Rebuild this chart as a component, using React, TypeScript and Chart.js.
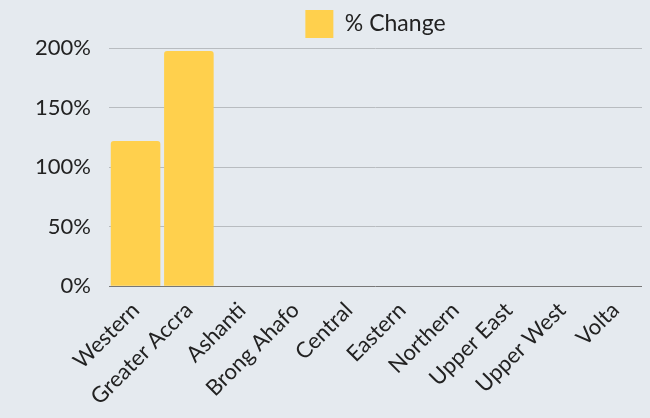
import React, { useEffect, useRef } from "react";
import { Chart, registerables } from "chart.js";

Chart.register(...registerables);

const categories = ["Western", "Greater Accra", "Ashanti", "Brong Ahafo", "Central", "Eastern", "Northern", "Upper East", "Upper West", "Volta"];
const pctChange = [122, 197.5, 0, 0, 0, 0, 0, 0, 0, 0];
const seriesLabel = "% Change";

export default function App() {
  const ref = useRef<HTMLCanvasElement | null>(null);
  useEffect(() => {
    document.body.style.margin = "0";
    const font = { family: "Lato", size: 22 };
    const chart = new Chart(ref.current!, {
      type: "bar",
      data: {
        labels: categories,
        datasets: [
          {
            label: seriesLabel,
            data: pctChange,
            backgroundColor: "#FFD04D",
            borderRadius: 3,
            borderSkipped: "bottom",
            barPercentage: 0.93,
            categoryPercentage: 1,
          },
        ],
      },
      options: {
        animation: false,
        responsive: false,
        layout: { padding: { left: 17, right: 8, top: 4, bottom: 5 } },
        plugins: {
          tooltip: { enabled: false },
          legend: {
            fullSize: false,
            labels: {
              boxWidth: 28,
              boxHeight: 28,
              color: "#222",
              font: { family: "Lato", size: 23 },
              padding: 6,
            },
          },
        },
        scales: {
          x: {
            grid: { display: false },
            border: { display: false },
            ticks: {
              color: "#222",
              font,
              maxRotation: 45,
              minRotation: 45,
              autoSkip: false,
            },
          },
          y: {
            min: 0,
            max: 200,
            border: { display: false },
            grid: {
              color: (ctx: any) => (ctx.tick && ctx.tick.value === 0 ? "#777" : "#b8bcc0"),
              drawTicks: false,
            },
            ticks: {
              stepSize: 50,
              color: "#222",
              padding: 18,
              font,
              callback: (v: any) => v + "%",
            },
          },
        },
      },
    });
    return () => chart.destroy();
  }, []);
  return (
    <div style={{ width: 650, height: 418, background: "#E5EAEF" }}>
      <canvas ref={ref} width={650} height={418} />
    </div>
  );
}
